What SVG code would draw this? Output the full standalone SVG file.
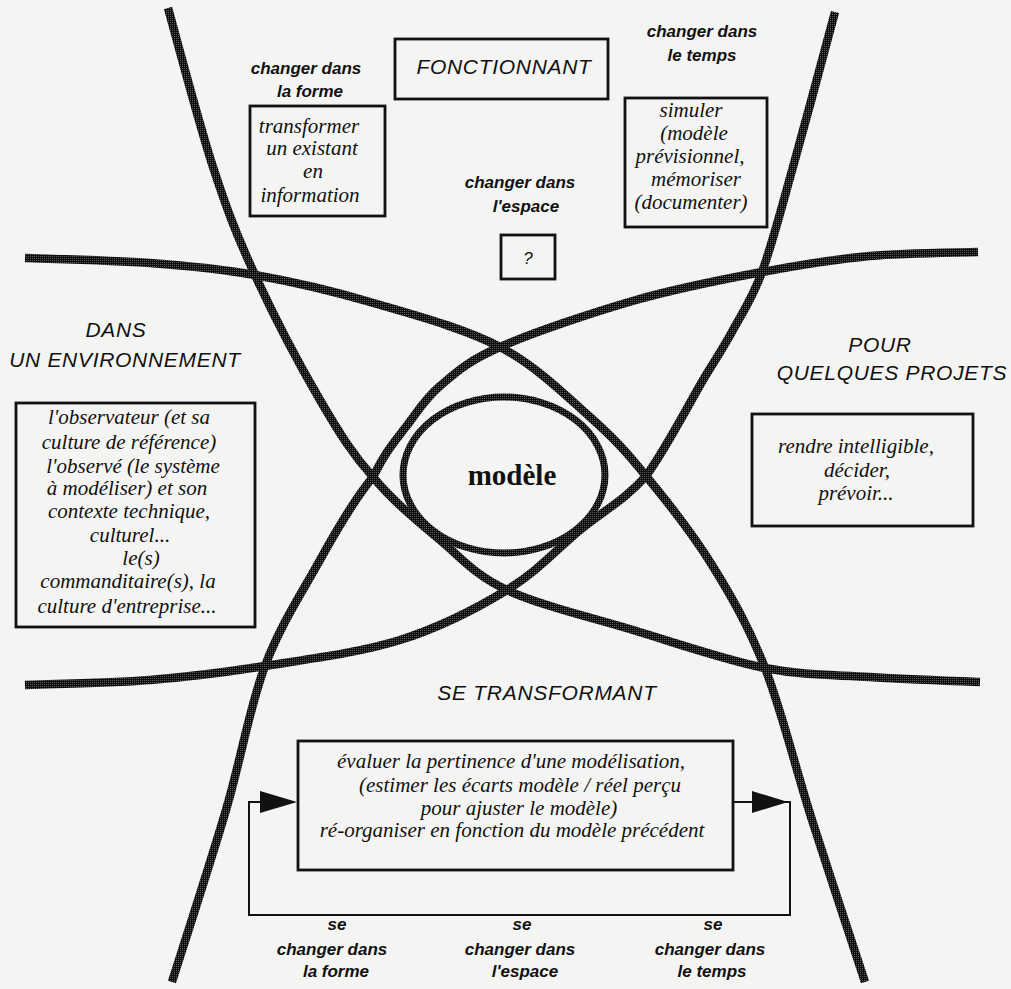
<svg xmlns="http://www.w3.org/2000/svg" width="1011" height="989" viewBox="0 0 1011 989">
  <defs>
    <!-- fine screen texture for the heavy strokes -->
    <pattern id="dither" patternUnits="userSpaceOnUse" width="2" height="2">
      <rect width="2" height="2" fill="#0e0e0e"/>
      <rect width="1" height="1" fill="#5a5a5a"/>
    </pattern>
    <style>
      .curve { fill: none; stroke: url(#dither); stroke-width: 8.5; stroke-linecap: butt; stroke-linejoin: round; }
      .ring { fill: none; stroke: url(#dither); stroke-width: 7; }
      .box { fill: none; stroke: #111; stroke-width: 2.8; }
      .loop { fill: none; stroke: #111; stroke-width: 2; }
      .head { fill: #111; }
      .sm { font-family: "Liberation Sans", Arial, sans-serif; font-style: italic; font-weight: bold; font-size: 17px; fill: #111; text-anchor: middle; }
      .q { font-family: "Liberation Sans", Arial, sans-serif; font-style: italic; font-size: 17px; fill: #111; text-anchor: middle; }
      .cap { font-family: "Liberation Sans", Arial, sans-serif; font-style: italic; font-size: 21px; letter-spacing: 0.7px; fill: #111; text-anchor: middle; }
      .ser { font-family: "Liberation Serif", "Times New Roman", serif; font-style: italic; font-size: 21px; fill: #111; text-anchor: middle; }
      .core { font-family: "Liberation Serif", "Times New Roman", serif; font-weight: bold; font-size: 29px; fill: #111; text-anchor: middle; }
    </style>
  </defs>

  <rect width="1011" height="989" fill="#f4f4f2"/>

  <!-- the four sweeping curves and the central ring -->
  <g id="connectors">
    <path class="curve" d="M168,8 C175.5,34.5 198.5,122.5 213,167 C227.5,211.5 237.2,236.2 255,275 C272.8,313.8 300.3,366.2 320,400 C339.7,433.8 353,454.7 373,477 C393,501.3 417.7,521.3 440,540 C462.3,558.7 474.8,575 507,590 C539.2,605 590,617 633,630 C676,643 725.5,660.2 765,668 C804.5,675.8 834.2,674.7 870,677 C905.8,679.3 961.7,681.2 980,682"/>
    <path class="curve" d="M25,258 C45.8,258.8 111.7,260.2 150,263 C188.3,265.8 218.3,268.5 255,275 C291.7,281.5 329.2,290 370,302 C410.8,314 463.3,327.8 500,347 C536.7,366.2 565.5,395.3 590,417 C614.5,438.7 626.7,452.3 646,476 C667.3,501.7 692.3,533.2 712,565 C731.7,596.8 748.3,625.5 765,668 C781.7,710.5 795.3,767.7 812,820 C828.7,872.3 856.2,955 865,982"/>
    <path class="curve" d="M835,12 C828,37.8 805.2,123.7 793,167 C780.8,210.3 772,244.8 762,272 C752,299.2 742.3,312.8 733,330 C723.7,347.2 720.7,350.8 706,375 C691.3,399.2 666,449.2 646,476 C624,500.8 603,510.8 580,530 C557,549.2 537,571.7 507,590 C477,608.3 440.3,627.3 400,640 C359.7,652.7 306.7,659.3 265,666 C223.3,672.7 190,676.8 150,680 C110,683.2 45.8,684.2 25,685"/>
    <path class="curve" d="M978,252 C960,252.7 906,252.7 870,256 C834,259.3 801,264.7 762,272 C723,279.3 679.7,287.5 636,300 C592.3,312.5 532.7,332.7 500,347 C467.3,361.3 455.8,372.5 440,386 C424.2,399.5 416.3,413.5 405,428 C393.7,442.5 386.2,451 373,477 C357.8,495 337.8,527.8 320,560 C302.2,592.2 280.7,624.3 265,666 C249.3,707.7 241.5,757.3 226,810 C210.5,862.7 181,953.3 172,982"/>
    <ellipse class="ring" cx="504" cy="475" rx="101" ry="78"/>

    <!-- feedback loop under the bottom box -->
    <path class="loop" d="M733,802 H790 V915 H249 V802 H270"/>
    <polygon class="head" points="752,791 788,802 752,813"/>
    <polygon class="head" points="260,791 297,802 260,813"/>
  </g>

  <g id="core">
    <text class="core" x="512" y="485">modèle</text>
  </g>

  <g id="fonctionnant">
    <rect class="box" x="395" y="39" width="213" height="60"/>
    <text class="cap" x="504" y="74">FONCTIONNANT</text>
  </g>

  <g id="forme-haut">
    <text class="sm" x="306" y="74">changer dans</text>
    <text class="sm" x="310" y="97">la forme</text>
    <rect class="box" x="250" y="106" width="135" height="110"/>
    <text class="ser" x="309" y="133">transformer</text>
    <text class="ser" x="312" y="155">un existant</text>
    <text class="ser" x="313" y="178">en</text>
    <text class="ser" x="310" y="202">information</text>
  </g>

  <g id="espace-haut">
    <text class="sm" x="520" y="188">changer dans</text>
    <text class="sm" x="526" y="212">l'espace</text>
    <rect class="box" x="501" y="235" width="54" height="44"/>
    <text class="q" x="528" y="264">?</text>
  </g>

  <g id="temps-haut">
    <text class="sm" x="702" y="37">changer dans</text>
    <text class="sm" x="702" y="61">le temps</text>
    <rect class="box" x="625" y="98" width="142" height="129"/>
    <text class="ser" x="691" y="117">simuler</text>
    <text class="ser" x="694" y="140">(modèle</text>
    <text class="ser" x="690" y="163">prévisionnel,</text>
    <text class="ser" x="696" y="186">mémoriser</text>
    <text class="ser" x="691" y="209">(documenter)</text>
  </g>

  <g id="environnement">
    <text class="cap" x="116" y="337">DANS</text>
    <text class="cap" x="125" y="367">UN ENVIRONNEMENT</text>
    <rect class="box" x="16" y="403" width="239" height="224"/>
    <text class="ser" x="129" y="424">l'observateur (et sa</text>
    <text class="ser" x="129" y="449">culture de référence)</text>
    <text class="ser" x="133" y="473">l'observé (le système</text>
    <text class="ser" x="127" y="495">à modéliser) et son</text>
    <text class="ser" x="129" y="518">contexte technique,</text>
    <text class="ser" x="130" y="542">culturel...</text>
    <text class="ser" x="141" y="565">le(s)</text>
    <text class="ser" x="128" y="588">commanditaire(s), la</text>
    <text class="ser" x="127" y="613">culture d'entreprise...</text>
  </g>

  <g id="projets">
    <text class="cap" x="880" y="352">POUR</text>
    <text class="cap" x="892" y="380">QUELQUES PROJETS</text>
    <rect class="box" x="752" y="414" width="221" height="112"/>
    <text class="ser" x="856" y="453">rendre intelligible,</text>
    <text class="ser" x="857" y="477">décider,</text>
    <text class="ser" x="856" y="500">prévoir...</text>
  </g>

  <g id="transformant">
    <text class="cap" x="547" y="700">SE TRANSFORMANT</text>
    <rect class="box" x="298" y="741" width="435" height="129"/>
    <text class="ser" x="511" y="768">évaluer la pertinence d'une modélisation,</text>
    <text class="ser" x="520" y="792">(estimer les écarts modèle / réel perçu</text>
    <text class="ser" x="519" y="815">pour ajuster le modèle)</text>
    <text class="ser" x="512" y="837">ré-organiser en fonction du modèle précédent</text>
  </g>

  <g id="bas-forme">
    <text class="sm" x="337" y="930">se</text>
    <text class="sm" x="332" y="955">changer dans</text>
    <text class="sm" x="336" y="977">la forme</text>
  </g>
  <g id="bas-espace">
    <text class="sm" x="522" y="930">se</text>
    <text class="sm" x="520" y="955">changer dans</text>
    <text class="sm" x="525" y="977">l'espace</text>
  </g>
  <g id="bas-temps">
    <text class="sm" x="713" y="930">se</text>
    <text class="sm" x="710" y="955">changer dans</text>
    <text class="sm" x="712" y="977">le temps</text>
  </g>
</svg>
